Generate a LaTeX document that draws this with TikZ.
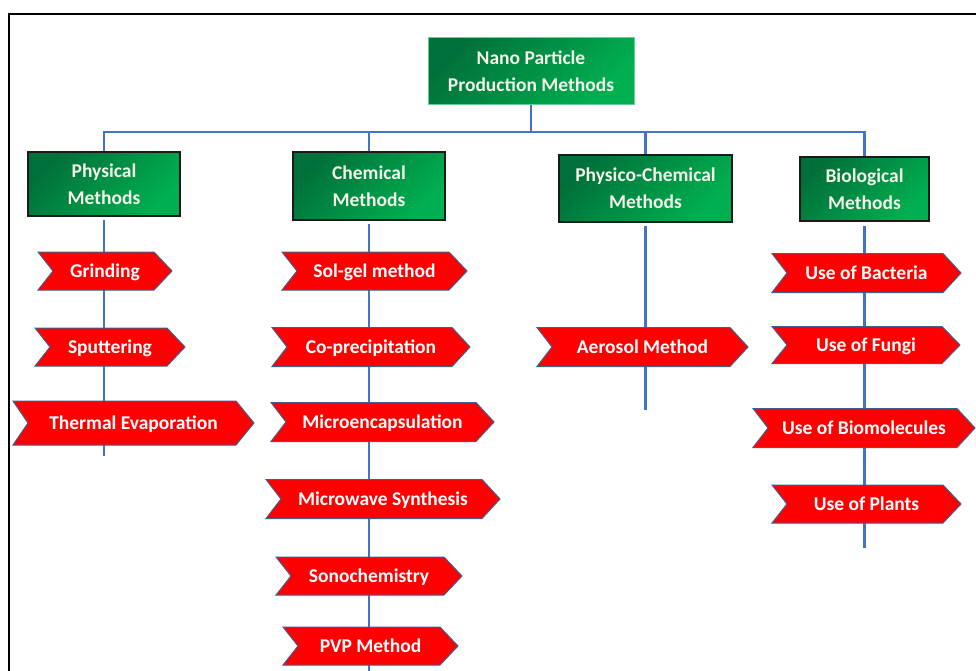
\documentclass[tikz,border=0pt]{standalone}
\usepackage{fontspec}
\setmainfont{Carlito}
\definecolor{lineblue}{HTML}{4472C4}
\definecolor{gdark}{HTML}{00703A}
\definecolor{glight}{HTML}{00B050}
\definecolor{chevred}{HTML}{FF0000}
\definecolor{chevedge}{HTML}{3F5F8F}
\definecolor{boxedge}{HTML}{1A1A1A}
\definecolor{boxtext}{HTML}{F4F4E8}
\newcommand\mychev[6]{%
  \draw[chevshape] (#2,#4-#5) -- (#3-18,#4-#5) -- (#3,#4) -- (#3-18,#4+#5) -- (#2,#4+#5) -- (#2+15,#4) -- cycle;
  \node[chevlabel] (#1) at ({(#2+#3)/2},#4) {#6};}
\begin{document}
\begin{tikzpicture}[x=1pt,y=-1pt,
  conn/.style={draw=lineblue, line width=2.8pt},
  grp/.style={draw=boxedge, line width=1.3pt, left color=gdark, right color=glight, shading angle=45,
    text=boxtext, font=\bfseries\fontsize{19.5}{27}\selectfont, align=center, inner sep=0pt},
  chevshape/.style={fill=chevred, draw=chevedge, line width=1pt, line join=miter},
  chevlabel/.style={text=white, font=\bfseries\fontsize{19.5}{22}\selectfont, inner sep=0pt,
    text height=12.5pt, text depth=0pt}]
\useasboundingbox (0,0) rectangle (976,671);
\fill[white] (0,0) rectangle (976,671);
\draw[line width=2pt] (976,14) -- (9,14) -- (9,671);

% group boxes
\node[grp, draw=glight!60!white, line width=0.6pt, minimum width=206pt, minimum height=67pt] (top) at (531,71) {Nano Particle\\Production Methods};
\node[grp, minimum width=152pt, minimum height=64pt] (phys) at (104,184) {Physical\\Methods};
\node[grp, minimum width=152pt, minimum height=68pt] (chem) at (369,186) {Chemical\\Methods};
\node[grp, minimum width=173pt, minimum height=67pt] (pc) at (645.5,188.5) {Physico-Chemical\\Methods};
\node[grp, minimum width=129pt, minimum height=64pt] (bio) at (864.5,189) {Biological\\Methods};

% bus
\coordinate (bus) at (0,132);
\draw[conn] (top.south) -- (top.south |- bus);
\draw[conn] (phys.north) -- (phys.north |- bus) -- (bio.north |- bus) -- (bio.north);
\draw[conn] (chem.north) -- (chem.north |- bus);
\draw[conn] (pc.north) -- (pc.north |- bus);

% vertical stems
\coordinate (physEnd) at (104,456);
\coordinate (chemEnd) at (369,680);
\coordinate (pcEnd) at (645.5,410);
\coordinate (bioEnd) at (864.5,548);
\draw[conn] ([yshift=-3pt]phys.south) -- (physEnd);
\draw[conn] ([yshift=-3pt]chem.south) -- (chemEnd);
\draw[conn] ([yshift=-3pt]pc.south) -- (pcEnd);
\draw[conn] ([yshift=-4pt]bio.south) -- (bioEnd);

% chevrons
\mychev{g1}{38}{172}{271}{19}{Grinding}
\mychev{g2}{35}{185}{347}{19}{Sputtering}
\mychev{g3}{13}{254}{423}{22}{Thermal Evaporation}
\mychev{c1}{282}{467}{271}{19}{Sol-gel method}
\mychev{c2}{272}{470}{347}{19.5}{Co-precipitation}
\mychev{c3}{271}{494}{422}{19.5}{Microencapsulation}
\mychev{c4}{266}{500}{499}{19.5}{Microwave Synthesis}
\mychev{c5}{276}{462}{576}{19}{Sonochemistry}
\mychev{c6}{283}{458}{646}{19}{PVP Method}
\mychev{a1}{537}{748}{347}{19.5}{Aerosol Method}
\mychev{b1}{772}{961}{273}{19.5}{Use of Bacteria}
\mychev{b2}{772}{960}{345}{18.5}{Use of Fungi}
\mychev{b3}{753}{975}{428}{19.5}{Use of Biomolecules}
\mychev{b4}{772}{961}{504}{19}{Use of Plants}
\end{tikzpicture}
\end{document}
